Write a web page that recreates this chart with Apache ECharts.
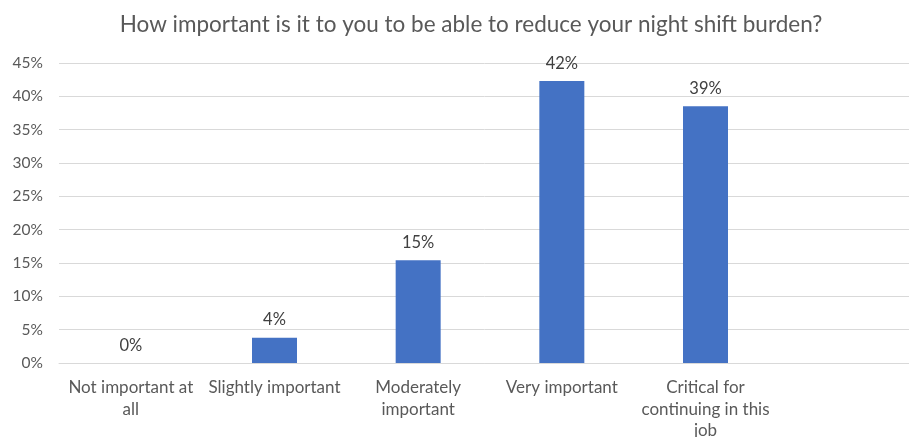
<!DOCTYPE html>
<html>
<head>
<meta charset="utf-8">
<script src="https://cdn.jsdelivr.net/npm/echarts@6/dist/echarts.min.js"></script>
<style>
html,body{margin:0;padding:0;background:#fff;}
#chart{width:909px;height:437px;}
</style>
</head>
<body>
<div id="chart"></div>
<script>
var titleText = 'How important is it to you to be able to reduce your night shift burden?';
var categories = ['Not important at\nall', 'Slightly important', 'Moderately\nimportant', 'Very important', 'Critical for\ncontinuing in this\njob', ''];
var values = [0, 3.8, 15.4, 42.3, 38.5, null];
var yTicks = [0, 5, 10, 15, 20, 25, 30, 35, 40, 45];

var FONT = 'Lato';
var chart = echarts.init(document.getElementById('chart'));
chart.setOption({
  animation: false,
  backgroundColor: '#ffffff',
  title: {
    text: titleText,
    left: 466,
    textAlign: 'center',
    top: 8,
    textStyle: {fontFamily: FONT, fontSize: 22.5, fontWeight: 'normal', color: '#595959'}
  },
  grid: {left: 59, width: 862, top: 63, height: 300, containLabel: false, outerBoundsMode: 'none'},
  xAxis: {
    type: 'category',
    data: categories,
    axisLine: {show: true, lineStyle: {color: '#D9D9D9', width: 1}},
    axisTick: {show: false},
    axisLabel: {
      interval: 0,
      margin: 14,
      fontFamily: FONT,
      fontSize: 17,
      lineHeight: 21.5,
      color: '#595959'
    }
  },
  yAxis: {
    type: 'value',
    min: yTicks[0],
    max: yTicks[yTicks.length - 1],
    interval: 5,
    axisLine: {show: false},
    axisTick: {show: false},
    splitLine: {lineStyle: {color: '#D9D9D9', width: 1}},
    axisLabel: {
      margin: 16,
      fontFamily: FONT,
      fontSize: 15.5,
      color: '#595959',
      formatter: function (v) { return v + '%'; }
    }
  },
  series: [{
    type: 'bar',
    data: values,
    barWidth: 45,
    itemStyle: {color: '#4472C4'},
    label: {
      show: true,
      position: 'top',
      distance: 9,
      fontFamily: FONT,
      fontSize: 16.5,
      color: '#404040',
      formatter: function (p) { return p.value == null ? '' : Math.round(p.value) + '%'; }
    }
  }]
});
</script>
</body>
</html>
